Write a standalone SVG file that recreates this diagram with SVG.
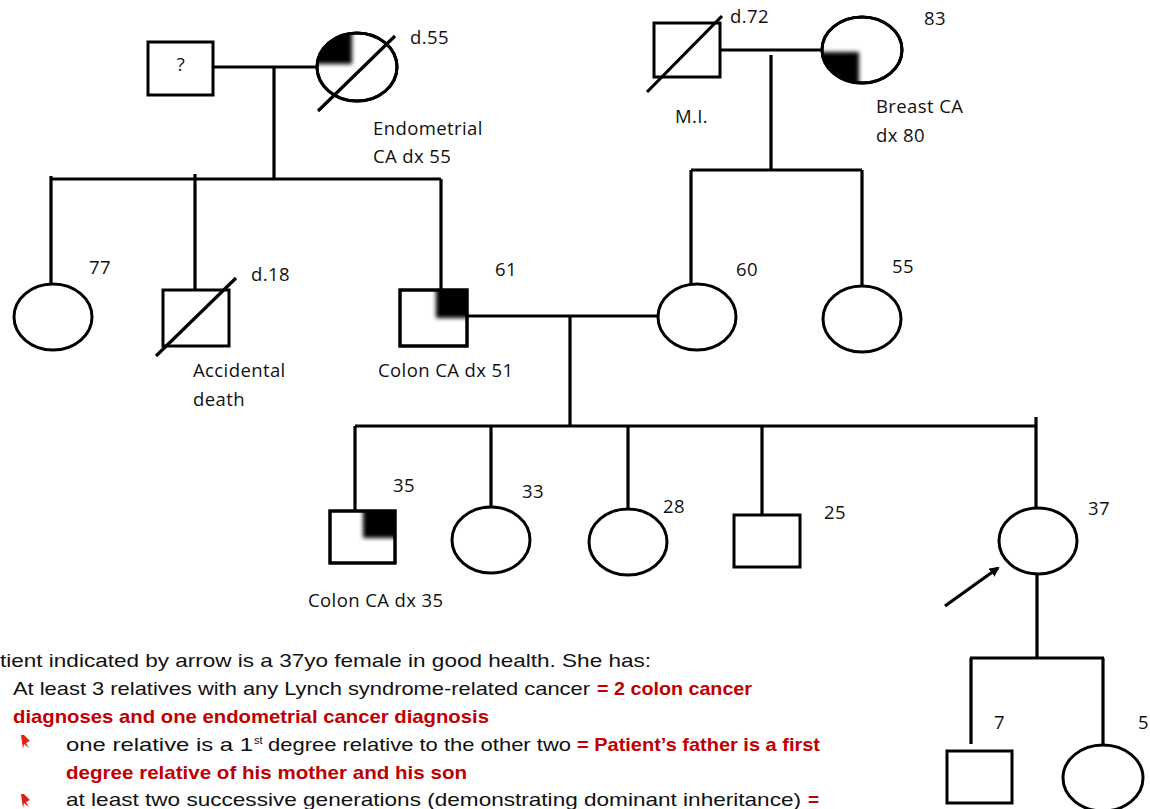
<svg xmlns="http://www.w3.org/2000/svg" width="1150" height="809" viewBox="0 0 1150 809">
<style>
.s{fill:#fff;stroke:#000;stroke-width:3}
.l{fill:none;stroke:#000;stroke-width:3.2}
.t{font-family:"Open Sans",sans-serif;font-size:18.5px;letter-spacing:0.4px;fill:#111}
.b{font-family:"Liberation Sans",sans-serif;font-size:19px;fill:#111}
.r{fill:#c00000;font-weight:bold}
</style>
<defs>
<filter id="blur" x="-50%" y="-50%" width="200%" height="200%"><feGaussianBlur stdDeviation="2.2"/></filter>
<clipPath id="c1"><ellipse cx="357" cy="67" rx="39" ry="33"/></clipPath>
<clipPath id="c2"><ellipse cx="862" cy="50" rx="39" ry="32"/></clipPath>
<clipPath id="c3"><rect x="400" y="290" width="67" height="56"/></clipPath>
<clipPath id="c4"><rect x="330" y="511" width="65" height="52"/></clipPath>
<marker id="ah" markerWidth="10" markerHeight="10" refX="8" refY="5" orient="auto" markerUnits="userSpaceOnUse"><path d="M0,0 L10,5 L0,10 z" fill="#000"/></marker>
<path id="flag" d="M0,0 L3,0 L9,6 L5,8 L8,13 L3,9 L2,14 Z" fill="#e02010"/>
</defs>

<g id="connectors">
<path class="l" d="M213,67 H316 M274,66 V180 M51,179 H441 M51,176 V284 M195,174 V290 M441,179 V290"/>
<path class="l" d="M720,50 H823 M771,55 V170 M691,170 H862 M691,170 V284 M862,170 V287"/>
<path class="l" d="M467,316 H658 M570,316 V427 M355,426 H1036 M355,426 V512 M491,426 V507 M628,426 V509 M762,426 V514 M1036,417 V509"/>
<path class="l" d="M1037,575 V658 M970,658 H1104 M971,658 V744 M1103,658 V746"/>
<line x1="945" y1="606" x2="998" y2="568" stroke="#000" stroke-width="3.2" marker-end="url(#ah)"/>
</g>

<g id="n_gf1">
<rect class="s" x="148" y="42" width="65" height="53"/>
<text class="t" x="181" y="71" text-anchor="middle" font-size="15">?</text>
</g>
<g id="n_gm1">
<ellipse class="s" cx="357" cy="67" rx="40" ry="34"/>
<g clip-path="url(#c1)"><rect x="300" y="20" width="52" height="44" fill="#000" filter="url(#blur)"/></g>
<ellipse cx="357" cy="67" rx="40" ry="34" fill="none" stroke="#000" stroke-width="3"/>
<line class="l" x1="318" y1="111" x2="395" y2="36"/>
<text class="t" x="410" y="44">d.55</text>
<text class="t" x="373" y="135">Endometrial</text>
<text class="t" x="373" y="163">CA dx 55</text>
</g>
<g id="n_gf2">
<rect class="s" x="654" y="23" width="66" height="54"/>
<line class="l" x1="647" y1="92" x2="722" y2="16"/>
<text class="t" x="730" y="23">d.72</text>
<text class="t" x="675" y="123">M.I.</text>
</g>
<g id="n_gm2">
<ellipse class="s" cx="862" cy="50" rx="40" ry="33"/>
<g clip-path="url(#c2)"><rect x="805" y="52" width="54" height="50" fill="#000" filter="url(#blur)"/></g>
<ellipse cx="862" cy="50" rx="40" ry="33" fill="none" stroke="#000" stroke-width="3"/>
<text class="t" x="924" y="25">83</text>
<text class="t" x="876" y="113">Breast CA</text>
<text class="t" x="876" y="142">dx 80</text>
</g>
<g id="n_aunt77">
<ellipse class="s" cx="53" cy="317" rx="39" ry="33"/>
<text class="t" x="89" y="274">77</text>
</g>
<g id="n_uncle18">
<rect class="s" x="163" y="290" width="66" height="56"/>
<line class="l" x1="156" y1="356" x2="236" y2="278"/>
<text class="t" x="251" y="281">d.18</text>
<text class="t" x="193" y="377">Accidental</text>
<text class="t" x="193" y="406">death</text>
</g>
<g id="n_father">
<rect class="s" x="400" y="290" width="67" height="56"/>
<g clip-path="url(#c3)"><rect x="436" y="280" width="44" height="38" fill="#000" filter="url(#blur)"/></g>
<rect x="400" y="290" width="67" height="56" fill="none" stroke="#000" stroke-width="3"/>
<text class="t" x="495" y="276">61</text>
<text class="t" x="378" y="377">Colon CA dx 51</text>
</g>
<g id="n_mother">
<ellipse class="s" cx="697" cy="317" rx="39" ry="33"/>
<text class="t" x="736" y="276">60</text>
</g>
<g id="n_aunt55">
<ellipse class="s" cx="862" cy="319" rx="39" ry="33"/>
<text class="t" x="892" y="273">55</text>
</g>
<g id="n_bro35">
<rect class="s" x="330" y="511" width="65" height="52"/>
<g clip-path="url(#c4)"><rect x="363" y="500" width="44" height="38" fill="#000" filter="url(#blur)"/></g>
<rect x="330" y="511" width="65" height="52" fill="none" stroke="#000" stroke-width="3"/>
<text class="t" x="393" y="492">35</text>
<text class="t" x="308" y="607">Colon CA dx 35</text>
</g>
<g id="n_sis33">
<ellipse class="s" cx="491" cy="540" rx="39" ry="33"/>
<text class="t" x="522" y="498">33</text>
</g>
<g id="n_sis28">
<ellipse class="s" cx="628" cy="542" rx="39" ry="33"/>
<text class="t" x="663" y="513">28</text>
</g>
<g id="n_bro25">
<rect class="s" x="734" y="515" width="66" height="52"/>
<text class="t" x="824" y="519">25</text>
</g>
<g id="n_patient">
<ellipse class="s" cx="1038" cy="541" rx="39" ry="33"/>
<text class="t" x="1088" y="515">37</text>
</g>
<g id="n_son7">
<rect class="s" x="947" y="751" width="65" height="52"/>
<text class="t" x="994" y="729">7</text>
</g>
<g id="n_dau5">
<ellipse class="s" cx="1103" cy="778" rx="40" ry="33"/>
<text class="t" x="1138" y="729">5</text>
</g>

<g id="notes">
<text class="b" x="0" y="667" textLength="651" lengthAdjust="spacingAndGlyphs">tient  indicated by arrow is a 37yo female in good health.  She  has:</text>
<text class="b" x="13" y="695"><tspan textLength="577" lengthAdjust="spacingAndGlyphs">At least 3 relatives with any Lynch syndrome-related cancer</tspan><tspan class="r" x="597" textLength="155" lengthAdjust="spacingAndGlyphs">= 2 colon cancer</tspan></text>
<text class="b r" x="13" y="723" textLength="476" lengthAdjust="spacingAndGlyphs">diagnoses and one endometrial cancer diagnosis</text>
<use href="#flag" x="21" y="735"/>
<text class="b" x="66" y="751"><tspan textLength="187" lengthAdjust="spacingAndGlyphs">one relative is a 1</tspan><tspan x="254" y="744" font-size="11">st</tspan><tspan x="268" y="751" textLength="303" lengthAdjust="spacingAndGlyphs">degree relative to the other two</tspan><tspan class="r" x="577" textLength="243" lengthAdjust="spacingAndGlyphs">= Patient’s father is a first</tspan></text>
<text class="b r" x="66" y="779" textLength="401" lengthAdjust="spacingAndGlyphs">degree relative of his mother and his son</text>
<use href="#flag" x="21" y="794"/>
<text class="b" x="66" y="806"><tspan textLength="735" lengthAdjust="spacingAndGlyphs">at least two successive generations (demonstrating dominant inheritance)</tspan><tspan class="r" x="808">=</tspan></text>
</g>
</svg>
